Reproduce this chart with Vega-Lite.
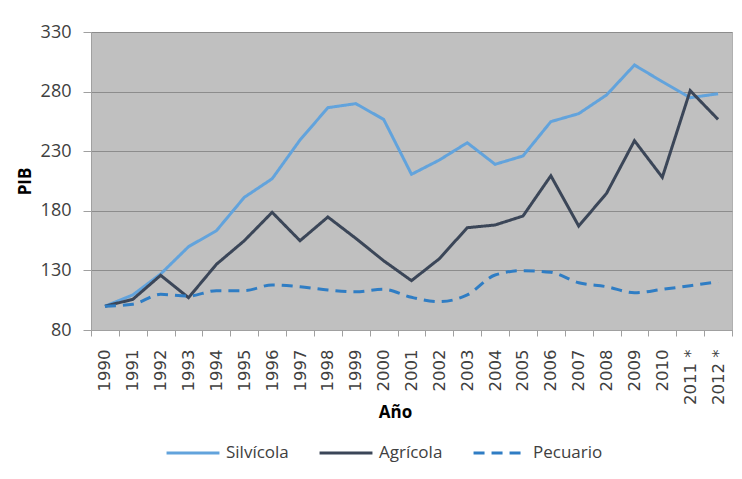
{
  "$schema": "https://vega.github.io/schema/vega-lite/v6.json",
  "width": 641,
  "height": 298,
  "autosize": "none",
  "padding": {"left": 91, "top": 32, "right": 10, "bottom": 149},
  "background": "white",
  "config": {
    "view": {"fill": "#c0c0c0", "stroke": "#b0b0b0"},
    "font": "Open Sans"
  },
  "data": {
    "values": [
      {"year": "1990", "serie": "Silvícola", "value": 100},
      {"year": "1991", "serie": "Silvícola", "value": 109.4},
      {"year": "1992", "serie": "Silvícola", "value": 127},
      {"year": "1993", "serie": "Silvícola", "value": 149.9},
      {"year": "1994", "serie": "Silvícola", "value": 163.3},
      {"year": "1995", "serie": "Silvícola", "value": 191.3},
      {"year": "1996", "serie": "Silvícola", "value": 206.9},
      {"year": "1997", "serie": "Silvícola", "value": 239.4},
      {"year": "1998", "serie": "Silvícola", "value": 266.5},
      {"year": "1999", "serie": "Silvícola", "value": 269.9},
      {"year": "2000", "serie": "Silvícola", "value": 256.7},
      {"year": "2001", "serie": "Silvícola", "value": 210.6},
      {"year": "2002", "serie": "Silvícola", "value": 222.6},
      {"year": "2003", "serie": "Silvícola", "value": 237.1},
      {"year": "2004", "serie": "Silvícola", "value": 219},
      {"year": "2005", "serie": "Silvícola", "value": 226},
      {"year": "2006", "serie": "Silvícola", "value": 254.8},
      {"year": "2007", "serie": "Silvícola", "value": 261.5},
      {"year": "2008", "serie": "Silvícola", "value": 277.2},
      {"year": "2009", "serie": "Silvícola", "value": 302.3},
      {"year": "2010", "serie": "Silvícola", "value": 288.3},
      {"year": "2011 *", "serie": "Silvícola", "value": 274.9},
      {"year": "2012 *", "serie": "Silvícola", "value": 278.2},
      {"year": "1990", "serie": "Agrícola", "value": 100},
      {"year": "1991", "serie": "Agrícola", "value": 105.7},
      {"year": "1992", "serie": "Agrícola", "value": 125.9},
      {"year": "1993", "serie": "Agrícola", "value": 107.1},
      {"year": "1994", "serie": "Agrícola", "value": 135.1},
      {"year": "1995", "serie": "Agrícola", "value": 154.9},
      {"year": "1996", "serie": "Agrícola", "value": 178.7},
      {"year": "1997", "serie": "Agrícola", "value": 154.9},
      {"year": "1998", "serie": "Agrícola", "value": 174.8},
      {"year": "1999", "serie": "Agrícola", "value": 156.9},
      {"year": "2000", "serie": "Agrícola", "value": 138.1},
      {"year": "2001", "serie": "Agrícola", "value": 121.4},
      {"year": "2002", "serie": "Agrícola", "value": 139.8},
      {"year": "2003", "serie": "Agrícola", "value": 165.8},
      {"year": "2004", "serie": "Agrícola", "value": 168.1},
      {"year": "2005", "serie": "Agrícola", "value": 175.6},
      {"year": "2006", "serie": "Agrícola", "value": 209.4},
      {"year": "2007", "serie": "Agrícola", "value": 167.2},
      {"year": "2008", "serie": "Agrícola", "value": 194.7},
      {"year": "2009", "serie": "Agrícola", "value": 238.8},
      {"year": "2010", "serie": "Agrícola", "value": 208.1},
      {"year": "2011 *", "serie": "Agrícola", "value": 280.8},
      {"year": "2012 *", "serie": "Agrícola", "value": 256.7},
      {"year": "1990", "serie": "Pecuario", "value": 100},
      {"year": "1991", "serie": "Pecuario", "value": 101.6},
      {"year": "1992", "serie": "Pecuario", "value": 109.9},
      {"year": "1993", "serie": "Pecuario", "value": 108.5},
      {"year": "1994", "serie": "Pecuario", "value": 113},
      {"year": "1995", "serie": "Pecuario", "value": 113},
      {"year": "1996", "serie": "Pecuario", "value": 117.8},
      {"year": "1997", "serie": "Pecuario", "value": 116.3},
      {"year": "1998", "serie": "Pecuario", "value": 113.6},
      {"year": "1999", "serie": "Pecuario", "value": 112.1},
      {"year": "2000", "serie": "Pecuario", "value": 114.1},
      {"year": "2001", "serie": "Pecuario", "value": 107.4},
      {"year": "2002", "serie": "Pecuario", "value": 103.8},
      {"year": "2003", "serie": "Pecuario", "value": 109.4},
      {"year": "2004", "serie": "Pecuario", "value": 126.1},
      {"year": "2005", "serie": "Pecuario", "value": 129.8},
      {"year": "2006", "serie": "Pecuario", "value": 128.4},
      {"year": "2007", "serie": "Pecuario", "value": 119.7},
      {"year": "2008", "serie": "Pecuario", "value": 116.3},
      {"year": "2009", "serie": "Pecuario", "value": 111.3},
      {"year": "2010", "serie": "Pecuario", "value": 114.1},
      {"year": "2011 *", "serie": "Pecuario", "value": 117.2},
      {"year": "2012 *", "serie": "Pecuario", "value": 120.5}
    ]
  },
  "encoding": {
    "x": {
      "field": "year",
      "type": "nominal",
      "sort": null,
      "scale": {"type": "band", "paddingInner": 0, "paddingOuter": 0},
      "axis": {
        "title": "Año",
        "titleFont": "Open Sans",
        "titleFontWeight": "bold",
        "titleFontSize": 17,
        "titleColor": "#000000",
        "titleX": 304,
        "titleY": 82,
        "titleBaseline": "middle",
        "titleAnchor": "middle",
        "labelAngle": 270,
        "labelAlign": "right",
        "labelBaseline": "middle",
        "labelFont": "DejaVu Sans",
        "labelFontSize": 16.5,
        "labelColor": "#404040",
        "labelPadding": 13,
        "tickBand": "extent",
        "tickSize": 6,
        "tickColor": "#a0a0a0",
        "domainColor": "#a0a0a0",
        "grid": false
      }
    },
    "y": {
      "field": "value",
      "type": "quantitative",
      "scale": {"domain": [80, 330], "nice": false, "zero": false},
      "axis": {
        "title": "PIB",
        "titleFont": "Open Sans",
        "titleFontWeight": "bold",
        "titleFontSize": 17,
        "titleColor": "#000000",
        "titleX": -66,
        "titleY": 149,
        "titleAngle": 270,
        "titleBaseline": "middle",
        "titleAnchor": "middle",
        "values": [80, 130, 180, 230, 280, 330],
        "labelFont": "Open Sans",
        "labelFontSize": 18,
        "labelColor": "#404040",
        "labelPadding": 12,
        "tickSize": 8,
        "tickColor": "#a0a0a0",
        "domainColor": "#a0a0a0",
        "grid": true,
        "gridColor": "#8c8c8c",
        "gridWidth": 1.2
      }
    },
    "color": {
      "field": "serie",
      "type": "nominal",
      "scale": {
        "domain": ["Silvícola", "Agrícola", "Pecuario"],
        "range": ["#62a3dc", "#3b4658", "#2f7dc4"]
      },
      "legend": {
        "title": null,
        "orient": "none",
        "direction": "horizontal",
        "legendX": 74,
        "legendY": 393,
        "symbolType": "stroke",
        "symbolSize": 2800,
        "symbolStrokeWidth": 3,
        "labelFont": "Open Sans",
        "labelFontSize": 17,
        "labelColor": "#404040",
        "labelOffset": 5,
        "columnPadding": 24
      }
    },
    "strokeDash": {
      "field": "serie",
      "type": "nominal",
      "scale": {
        "domain": ["Silvícola", "Agrícola", "Pecuario"],
        "range": [[1, 0], [1, 0], [11, 7]]
      },
      "legend": null
    }
  },
  "layer": [
    {
      "transform": [{"filter": "datum.serie !== 'Pecuario'"}],
      "mark": {"type": "line", "strokeWidth": 3}
    },
    {
      "transform": [{"filter": "datum.serie === 'Pecuario'"}],
      "mark": {"type": "line", "strokeWidth": 3, "interpolate": "monotone"}
    }
  ]
}
